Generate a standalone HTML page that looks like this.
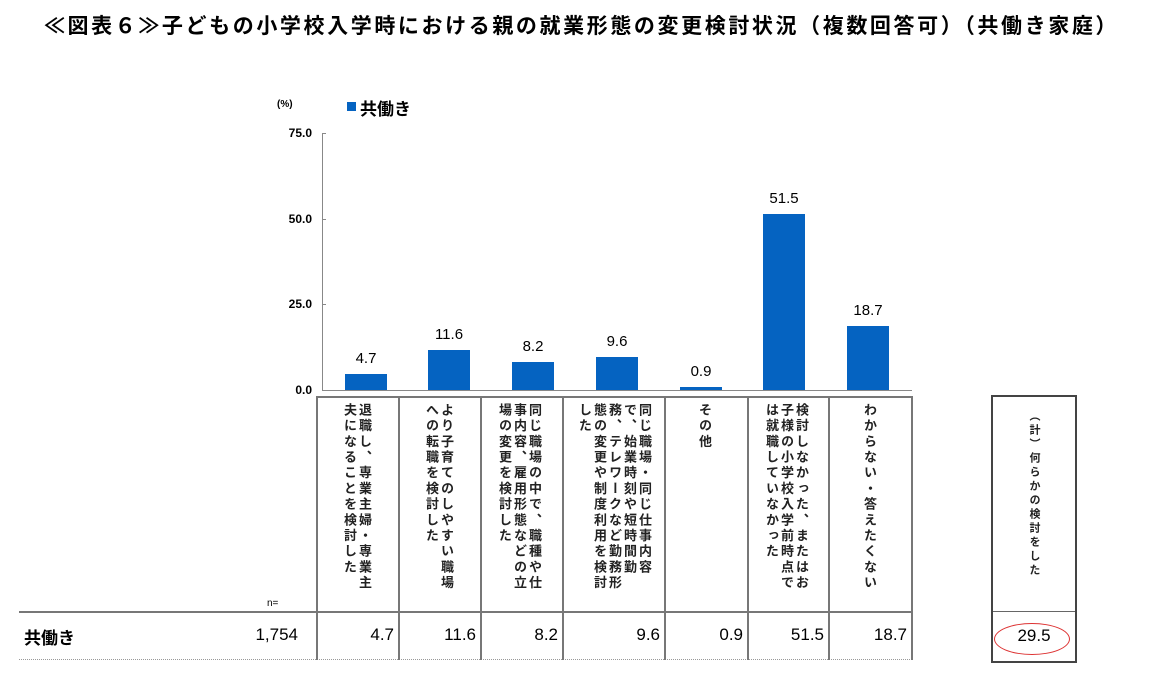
<!DOCTYPE html>
<html><head><meta charset="utf-8"><style>
body{margin:0;width:1163px;height:694px;background:#fff;position:relative;overflow:hidden;font-family:"Liberation Sans","Noto Sans CJK JP",sans-serif;color:#000}
.a{position:absolute}
.t{left:0;width:1163px;top:10px;text-align:center;font-size:21px;font-weight:bold;letter-spacing:2.6px;white-space:nowrap}
.bar{position:absolute;background:#0563C1;width:42px}
.v{position:absolute;font-size:15px;width:60px;text-align:center}
.yl{position:absolute;font-size:12px;font-weight:bold;width:40px;text-align:right;left:272px}
.vt{position:absolute;writing-mode:vertical-rl;font-size:13px;font-weight:bold;line-height:15px;letter-spacing:2.7px;top:403px;color:#222}
.vl{position:absolute;background:#777;width:2px}
.num{position:absolute;top:625px;font-size:17px;text-align:right}
</style></head><body>
<div class="a t">≪図表６≫子どもの小学校入学時における親の就業形態の変更検討状況（複数回答可）（共働き家庭）</div>
<div class="a" style="left:277px;top:99px;font-size:10px;font-weight:bold">(%)</div>
<div class="a" style="left:347px;top:102px;width:9px;height:9px;background:#0563C1"></div>
<div class="a" style="left:360px;top:95px;font-size:17px;font-weight:bold">共働き</div>
<div class="yl" style="top:126px">75.0</div>
<div class="yl" style="top:212px">50.0</div>
<div class="yl" style="top:297px">25.0</div>
<div class="yl" style="top:383px">0.0</div>
<div class="a" style="left:322px;top:133px;width:1px;height:258px;background:#888"></div>
<div class="a" style="left:322px;top:133px;width:4px;height:1px;background:#888"></div>
<div class="a" style="left:322px;top:219px;width:4px;height:1px;background:#888"></div>
<div class="a" style="left:322px;top:304px;width:4px;height:1px;background:#888"></div>
<div class="a" style="left:322px;top:390px;width:590px;height:1px;background:#888"></div>

<div class="bar" style="left:345px;top:374px;height:16px"></div>
<div class="bar" style="left:428px;top:350px;height:40px"></div>
<div class="bar" style="left:512px;top:362px;height:28px"></div>
<div class="bar" style="left:596px;top:357px;height:33px"></div>
<div class="bar" style="left:680px;top:387px;height:3px"></div>
<div class="bar" style="left:763px;top:214px;height:176px"></div>
<div class="bar" style="left:847px;top:326px;height:64px"></div>
<div class="v" style="left:336px;top:350px">4.7</div>
<div class="v" style="left:419px;top:326px">11.6</div>
<div class="v" style="left:503px;top:338px">8.2</div>
<div class="v" style="left:587px;top:333px">9.6</div>
<div class="v" style="left:671px;top:363px">0.9</div>
<div class="v" style="left:754px;top:190px">51.5</div>
<div class="v" style="left:838px;top:302px">18.7</div>

<div class="a" style="left:317px;top:396px;width:595px;height:2px;background:#777"></div>
<div class="a" style="left:19px;top:611px;width:893px;height:2px;background:#777"></div>
<div class="a" style="left:19px;top:659px;width:893px;border-top:1px dotted #999"></div>
<div class="vl" style="left:316px;top:396px;height:264px"></div>
<div class="vl" style="left:398px;top:396px;height:264px"></div>
<div class="vl" style="left:480px;top:396px;height:264px"></div>
<div class="vl" style="left:562px;top:396px;height:264px"></div>
<div class="vl" style="left:664px;top:396px;height:264px"></div>
<div class="vl" style="left:747px;top:396px;height:264px"></div>
<div class="vl" style="left:828px;top:396px;height:264px"></div>
<div class="vl" style="left:911px;top:396px;height:264px"></div>

<div class="vt" style="left:342px">退職し、専業主婦・専業主<br>夫になることを検討した</div>
<div class="vt" style="left:424px">より子育てのしやすい職場<br>への転職を検討した</div>
<div class="vt" style="left:497px">同じ職場の中で、職種や仕<br>事内容、雇用形態などの立<br>場の変更を検討した</div>
<div class="vt" style="left:577px">同じ職場・同じ仕事内容<br>で、始業時刻や短時間勤<br>務、テレワークなど勤務形<br>態の変更や制度利用を検討<br>した</div>
<div class="vt" style="left:697px">その他</div>
<div class="vt" style="left:764px">検討しなかった、またはお<br>子様の小学校入学前時点で<br>は就職していなかった</div>
<div class="vt" style="left:862px">わからない・答えたくない</div>

<div class="a" style="left:267px;top:598px;font-size:10px">n=</div>
<div class="a" style="left:24px;top:624px;font-size:17px;font-weight:bold">共働き</div>
<div class="num" style="left:200px;width:98px">1,754</div>
<div class="num" style="left:317px;width:77px">4.7</div>
<div class="num" style="left:399px;width:77px">11.6</div>
<div class="num" style="left:481px;width:77px">8.2</div>
<div class="num" style="left:563px;width:97px">9.6</div>
<div class="num" style="left:665px;width:78px">0.9</div>
<div class="num" style="left:748px;width:76px">51.5</div>
<div class="num" style="left:829px;width:78px">18.7</div>

<div class="a" style="left:991px;top:395px;width:82px;height:264px;border:2px solid #444"></div>
<div class="a" style="left:993px;top:611px;width:82px;height:1px;background:#666"></div>
<div class="vt" style="left:1026px;top:410px;font-size:11px;letter-spacing:3px">（計）何らかの検討をした</div>
<div class="num" style="left:993px;top:626px;width:82px;text-align:center">29.5</div>
<div class="a" style="left:994px;top:623px;width:74px;height:30px;border:1.5px solid #d33;border-radius:50%"></div>
</body></html>
